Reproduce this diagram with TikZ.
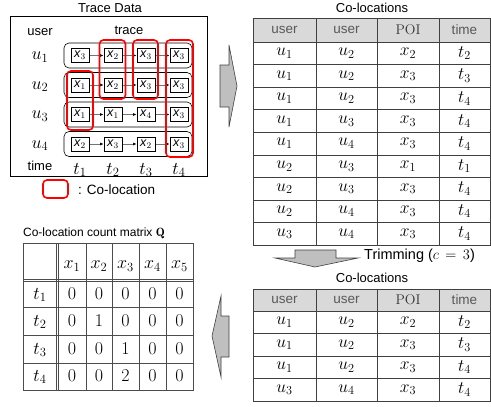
\RequirePackage{fix-cm}
\documentclass[tikz,border=0pt]{standalone}
\usepackage{fontspec}
\setsansfont{Liberation Sans}
\usetikzlibrary{arrows.meta}
\definecolor{arrfill}{HTML}{BFBFBF}
\definecolor{arrdraw}{HTML}{404040}
\definecolor{hdrfill}{HTML}{D9D9D9}
\definecolor{hdrtext}{HTML}{595959}
\newcommand\px[1]{\textsf{\itshape x}$_{#1}$}
\begin{document}
\begin{tikzpicture}[x=1pt,y=-1pt,
  lab/.style={font=\sffamily\fontsize{13}{15}\selectfont, inner sep=0pt},
  mlab/.style={font=\fontsize{18}{20}\selectfont, inner sep=0pt},
  rowbox/.style={draw, rounded corners=5pt, minimum width=128pt, minimum height=25pt, inner sep=0pt, line width=0.6pt},
  xbox/.style={draw, line width=1pt, minimum width=18pt, minimum height=14pt, inner sep=0pt, fill=white, font=\sffamily\fontsize{12.5}{13}\selectfont},
  redbox/.style={draw=red, line width=1.6pt, rounded corners=4pt, inner sep=0pt},
  link/.style={draw=black!55, line width=0.6pt, -{Latex[black,length=3.5pt,width=3pt]}},
  bigarrow/.style={fill=arrfill, draw=arrdraw, line width=0.6pt},
  cell/.style={draw=black!75, line width=0.6pt, inner sep=0pt, font=\fontsize{17.5}{19}\selectfont},
  hcell/.style={cell, fill=hdrfill, text=hdrtext, font=\sffamily\fontsize{13.5}{15}\selectfont},
  mline/.style={draw=black!70, line width=0.6pt},
  mcell/.style={inner sep=0pt, font=\fontsize{18}{20}\selectfont},
  dcell/.style={inner sep=0pt, font=\fontsize{18}{20}\selectfont}
]
\useasboundingbox (0,0) rectangle (491,407);

% ---------- Trace data ----------
\node[lab] (ttitle) at (110,8) {Trace Data};
\node[draw, line width=0.6pt, anchor=north west, minimum width=197pt, minimum height=160pt, inner sep=0pt] (tracebox) at (10,16) {};
\node[lab] (userlab) at (40,32) {user};
\node[lab] (tracelab) at (129,30) {trace};
\node[lab] (timelab) at (40,166) {time};

\foreach \r/\yy in {1/55.5,2/85,3/114.5,4/144}{
  \node[rowbox] (row\r) at (128,\yy) {};
  \node[mlab] (u\r) at (40,\yy+1.5) {$u_{\r}$};
}
\foreach \c/\xx in {1/80,2/113,3/146,4/179}{
  \node[mlab] (t\c) at (\xx,170) {$t_{\c}$};
}
% boxes
\foreach \r/\yy/\pa/\pb/\pc/\pd in {1/55.5/3/2/3/3, 2/85/1/2/3/3, 3/114.5/1/1/4/3, 4/144/2/3/2/3}{
  \node[xbox] (b\r1) at (80,\yy) {\px{\pa}};
  \node[xbox] (b\r2) at (113,\yy) {\px{\pb}};
  \node[xbox] (b\r3) at (146,\yy) {\px{\pc}};
  \node[xbox] (b\r4) at (179,\yy) {\px{\pd}};
  \draw[link] (b\r1) -- (b\r2);
  \draw[link] (b\r2) -- (b\r3);
  \draw[link] (b\r3) -- (b\r4);
}
% co-location boxes
\node[redbox, minimum width=26pt, minimum height=59pt] (co1) at (80,100.5) {};
\node[redbox, minimum width=26pt, minimum height=59pt] (co2) at (112.5,69.5) {};
\node[redbox, minimum width=25pt, minimum height=59pt] (co3) at (145.5,69.5) {};
\node[redbox, minimum width=27pt, minimum height=117pt] (co4) at (179.5,98.5) {};
% legend
\node[redbox, minimum width=25pt, minimum height=18pt] (legbox) at (55.5,189) {};
\node[lab, anchor=west, font=\sffamily\fontsize{13.5}{15}\selectfont] (legtext) at (78,190) {: Co-location};

% ---------- big arrows ----------
\draw[bigarrow] (220,65) -- (229,65) -- (229,45) -- (237,86) -- (229,127) -- (229,107) -- (220,107) -- cycle;
\draw[bigarrow] (229,316) -- (221,316) -- (221,296) -- (212,336) -- (221,377) -- (221,357) -- (229,357) -- cycle;
\draw[bigarrow] (295,250) -- (336,250) -- (336,258) -- (358,258) -- (315,267) -- (275,258) -- (295,258) -- cycle;
\node[lab, anchor=west, font=\sffamily\fontsize{14.5}{16}\selectfont] (trim) at (364,256) {Trimming ($c\,=\,3$)};

% ---------- Co-locations table 1 ----------
\node[lab] (c1title) at (372,8) {Co-locations};
\node[hcell, minimum width=63pt, minimum height=24pt] (H1a) at (284.5,30) {user};
\node[hcell, minimum width=61pt, minimum height=24pt] (H1b) at (346.5,30) {user};
\node[hcell, minimum width=62pt, minimum height=24pt, font=\rmfamily\fontsize{14}{15}\selectfont, text=black!80] (H1c) at (408,30) {POI};
\node[hcell, minimum width=51pt, minimum height=24pt] (H1d) at (464.5,30) {time};
\foreach \a/\b/\c/\d [count=\i] in {1/2/2/2, 1/2/3/3, 1/2/3/4, 1/3/3/4, 1/4/3/4, 2/3/1/1, 2/3/3/4, 2/4/3/4, 3/4/3/4}{
  \pgfmathsetmacro\yy{42+22.56*(\i-0.5)}
  \node[cell, minimum width=63pt, minimum height=22.56pt] (A\i a) at (284.5,\yy) {$u_{\a}$};
  \node[cell, minimum width=61pt, minimum height=22.56pt] (A\i b) at (346.5,\yy) {$u_{\b}$};
  \node[cell, minimum width=62pt, minimum height=22.56pt] (A\i c) at (408,\yy) {$x_{\c}$};
  \node[cell, minimum width=51pt, minimum height=22.56pt] (A\i d) at (464.5,\yy) {$t_{\d}$};
}

% ---------- Co-locations table 2 ----------
\node[lab] (c2title) at (372,278) {Co-locations};
\node[hcell, minimum width=63pt, minimum height=22pt] (H2a) at (284.5,300) {user};
\node[hcell, minimum width=61pt, minimum height=22pt] (H2b) at (346.5,300) {user};
\node[hcell, minimum width=62pt, minimum height=22pt, font=\rmfamily\fontsize{14}{15}\selectfont, text=black!80] (H2c) at (408,300) {POI};
\node[hcell, minimum width=51pt, minimum height=22pt] (H2d) at (464.5,300) {time};
\foreach \a/\b/\c/\d [count=\i] in {1/2/2/2, 1/2/3/3, 1/2/3/4, 3/4/3/4}{
  \pgfmathsetmacro\yy{311+22.5*(\i-0.5)}
  \node[cell, minimum width=63pt, minimum height=22.5pt] (B\i a) at (284.5,\yy) {$u_{\a}$};
  \node[cell, minimum width=61pt, minimum height=22.5pt] (B\i b) at (346.5,\yy) {$u_{\b}$};
  \node[cell, minimum width=62pt, minimum height=22.5pt] (B\i c) at (408,\yy) {$x_{\c}$};
  \node[cell, minimum width=51pt, minimum height=22.5pt] (B\i d) at (464.5,\yy) {$t_{\d}$};
}

% ---------- Count matrix ----------
\node[lab, font=\sffamily\fontsize{12}{14}\selectfont] (mtitle) at (94,233) {Co-location count matrix $\mathbf{Q}$};
\draw[mline] (23,243) rectangle (193,390);
\foreach \xx in {86,112,139,166}{ \draw[mline] (\xx,243) -- (\xx,390); }
\draw[mline] (56,243) -- (56,390);
\draw[mline] (58.5,243) -- (58.5,390);
\foreach \yy in {307,335,363}{ \draw[mline] (23,\yy) -- (193,\yy); }
\draw[mline] (23,279) -- (193,279);
\draw[mline] (23,281.5) -- (193,281.5);
\foreach \c/\xx in {1/72,2/99,3/125.5,4/152.5,5/179.5}{
  \node[mcell] (mx\c) at (\xx,266) {$x_{\c}$};
}
\foreach \r/\yy/\ma/\mb/\mc/\md/\me in {1/295/0/0/0/0/0, 2/322/0/1/0/0/0, 3/350/0/0/1/0/0, 4/377/0/0/2/0/0}{
  \node[mcell] (mt\r) at (40,\yy) {$t_{\r}$};
  \node[dcell] (m\r1) at (72,\yy-1) {\ma};
  \node[dcell] (m\r2) at (99,\yy-1) {\mb};
  \node[dcell] (m\r3) at (125.5,\yy-1) {\mc};
  \node[dcell] (m\r4) at (152.5,\yy-1) {\md};
  \node[dcell] (m\r5) at (179.5,\yy-1) {\me};
}
\end{tikzpicture}
\end{document}
